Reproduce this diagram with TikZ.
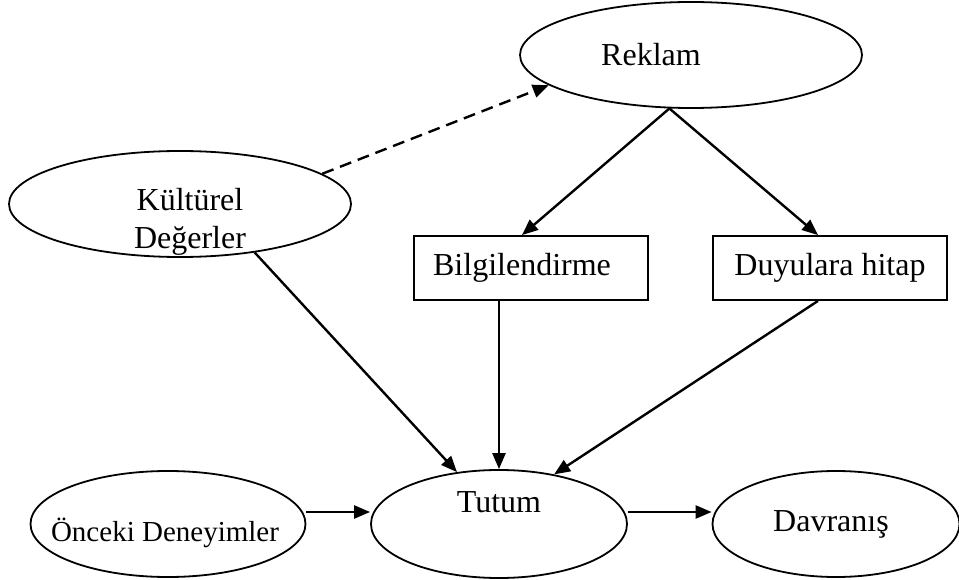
\documentclass[tikz,border=0pt]{standalone}
\usepackage{fontspec}
\setmainfont{Liberation Serif}
\usetikzlibrary{shapes.geometric, arrows.meta}

\begin{document}
\begin{tikzpicture}[x=1pt,y=-1pt,
  font=\fontsize{32}{38}\selectfont,
  oval/.style={draw,shape=ellipse,line width=1.8pt,inner sep=0pt,minimum height=106pt},
  box/.style={draw,shape=rectangle,line width=1.8pt,inner sep=0pt,minimum width=234pt,minimum height=64pt},
  arr/.style={line width=2.4pt,-{Triangle[length=16pt,width=13pt]}},
  dasharr/.style={arr,dash pattern=on 12pt off 7pt}]
  \useasboundingbox (0,0) rectangle (959,580);
  \path (691,55) node[oval,minimum width=342pt,label={[xshift=-40pt]center:Reklam}] (reklam) {}
  (180,204) node[oval,minimum width=342pt,label={[xshift=10pt,yshift=-18pt,align=center]center:Kültürel\\Değerler}] (kultur) {}
  (531,268) node[box] (bilgi) {\hspace{-18pt}Bilgilendirme}
  (830,268) node[box] (duyu) {Duyulara hitap}
  (168,524) node[oval,minimum width=275pt,label={[yshift=-9pt,xshift=-3pt,font=\fontsize{29}{35}\selectfont]center:Önceki Deneyimler}] (onceki) {}
  (499,524) node[oval,minimum width=256pt,minimum height=108pt,label={[yshift=22pt]center:Tutum}] (tutum) {}
  (836,524) node[oval,minimum width=247pt,label={[xshift=-5pt]center:Davranış}] (davranis) {};
  \draw[dasharr] (kultur.12) -- (reklam.192);
  \draw[arr] (reklam.248) -- ([xshift=-9pt]bilgi.north);
  \draw[arr] (reklam.248) -- ([xshift=-12pt]duyu.north);
  \draw[arr] (kultur.-33) -- (tutum.129);
  \draw[arr] ([xshift=-32pt]bilgi.south) -- (tutum.north);
  \draw[arr] ([xshift=-12pt]duyu.south) -- (tutum.42);
  \draw[arr] ([yshift=12pt]onceki.east) -- ([yshift=12pt]tutum.west);
  \draw[arr] ([yshift=12pt]tutum.east) -- ([yshift=12pt]davranis.west);
\end{tikzpicture}
\end{document}
